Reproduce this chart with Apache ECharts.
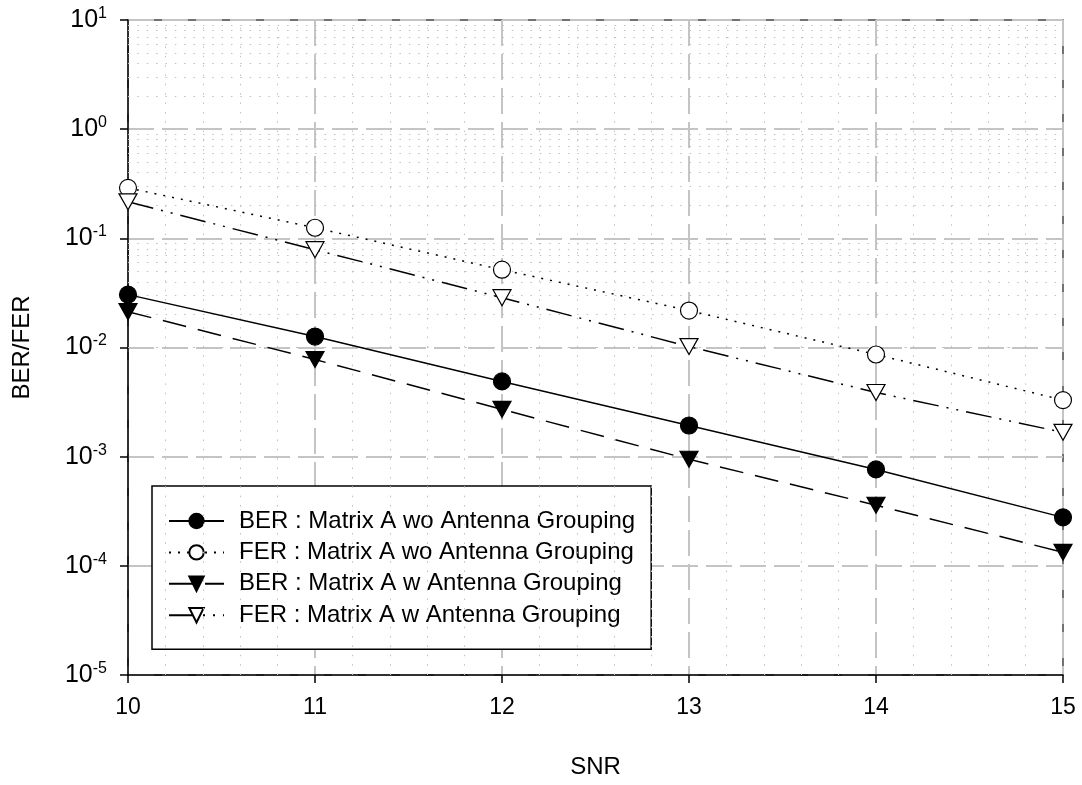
<!DOCTYPE html>
<html>
<head>
<meta charset="utf-8">
<script src="https://cdn.jsdelivr.net/npm/echarts@6/dist/echarts.min.js"></script>
<style>html,body{margin:0;padding:0;background:#fff;}#c{width:1082px;height:785px;}</style>
</head>
<body>
<div id="c"></div>
<script>
const snr = [10, 11, 12, 13, 14, 15];
const berWo = [0.0305, 0.0126, 0.00489, 0.00193, 0.000764, 0.000278];
const ferWo = [0.290, 0.125, 0.0516, 0.0218, 0.00863, 0.00330];
const berW  = [0.0213, 0.00776, 0.00271, 0.000946, 0.000359, 0.000133];
const ferW  = [0.216, 0.0787, 0.0286, 0.0102, 0.00387, 0.00167];
const seriesNames = [
  'BER : Matrix A wo Antenna Grouping',
  'FER : Matrix A wo Antenna Grouping',
  'BER : Matrix A w Antenna Grouping',
  'FER : Matrix A w Antenna Grouping'
];
const xName = 'SNR';
const yName = 'BER/FER';

const pair = arr => snr.map((x, i) => [x, arr[i]]);
const triDown = 'path://M0,0 L20,0 L10,18 Z';
const FF = 'Liberation Sans, Arial, sans-serif';

// minor grid positions
const minorY = [];
for (let d = -5; d <= 0; d++) for (let k = 2; k <= 9; k++) minorY.push({yAxis: k * Math.pow(10, d)});
const minorX = [];
for (let i = 0; i < 25; i++) { const v = 10 + i * 0.2; if (i % 5 !== 0) minorX.push({xAxis: +v.toFixed(2)}); }

const chart = echarts.init(document.getElementById('c'), null, {renderer: 'canvas'});
const base = {type: 'line', z: 5, lineStyle: {color: '#000', width: 1.5}, itemStyle: {color: '#000', borderColor: '#000', borderWidth: 1.2}};
chart.setOption({
  animation: false,
  backgroundColor: '#fff',
  textStyle: {fontFamily: FF, color: '#000'},
  grid: {left: 128, right: 19, top: 20, bottom: 110, show: true, borderColor: '#444', borderWidth: 1.5, backgroundColor: 'transparent'},
  legend: {
    orient: 'vertical', left: 152, top: 486,
    data: seriesNames,
    backgroundColor: '#fff', borderColor: '#000', borderWidth: 1.5,
    padding: [23, 16, 22, 16],
    itemWidth: 55, itemHeight: 18, itemGap: 7.4,
    textStyle: {fontSize: 24, color: '#000', fontFamily: FF, padding: [0, 0, 0, 10]}
  },
  xAxis: {
    type: 'value', min: 10, max: 15, interval: 1,
    name: xName, nameLocation: 'middle', nameGap: 80,
    nameTextStyle: {fontSize: 24, color: '#000', fontFamily: FF},
    axisLine: {lineStyle: {color: '#000', width: 1.5}},
    axisTick: {show: true, length: 8, lineStyle: {color: '#000', width: 1.5}},
    axisLabel: {fontSize: 23, color: '#000', margin: 21, fontFamily: FF},
    splitLine: {show: true, lineStyle: {color: '#c4c4c4', width: 2, type: [26, 8]}}
  },
  yAxis: {
    type: 'log', logBase: 10, min: 1e-5, max: 10,
    name: yName, nameLocation: 'middle', nameGap: 94, nameRotate: 90,
    nameTextStyle: {fontSize: 24, color: '#000', fontFamily: FF},
    axisLine: {show: true, lineStyle: {color: '#000', width: 1.5}},
    axisTick: {show: true, length: 8, lineStyle: {color: '#000', width: 1.5}},
    axisLabel: {
      margin: 21,
      formatter: v => { const e = Math.round(Math.log10(v)); return '{b|10}{s|' + e + '}'; },
      rich: {
        b: {fontSize: 25, color: '#000', fontFamily: FF},
        s: {fontSize: 16, color: '#000', fontFamily: FF, padding: [0, 0, 13, 0]}
      }
    },
    splitLine: {show: true, lineStyle: {color: '#c4c4c4', width: 2, type: [26, 8]}}
  },
  series: [
    {
      type: 'line', name: '_grid', data: [], z: 1, silent: true,
      markLine: {
        silent: true, symbol: 'none', label: {show: false},
        lineStyle: {color: '#c0c0c0', width: 1, type: [1.5, 7.86]},
        data: minorY.concat(minorX)
      }
    },
    Object.assign({}, base, {name: seriesNames[0], data: pair(berWo), symbol: 'circle', symbolSize: 17,
      lineStyle: {color: '#000', width: 1.5, type: 'solid'}}),
    Object.assign({}, base, {name: seriesNames[1], data: pair(ferWo), symbol: 'circle', symbolSize: 17,
      lineStyle: {color: '#000', width: 1.5, type: [2, 7]},
      itemStyle: {color: '#fff', borderColor: '#000', borderWidth: 1.2}}),
    Object.assign({}, base, {name: seriesNames[2], data: pair(berW), symbol: triDown, symbolSize: [18, 16],
      lineStyle: {color: '#000', width: 1.5, type: [24, 12]}}),
    Object.assign({}, base, {name: seriesNames[3], data: pair(ferW), symbol: triDown, symbolSize: [18, 16],
      lineStyle: {color: '#000', width: 1.5, type: [26, 8, 2, 8, 2, 8]},
      itemStyle: {color: '#fff', borderColor: '#000', borderWidth: 1.2}})
  ]
});
</script>
</body>
</html>
